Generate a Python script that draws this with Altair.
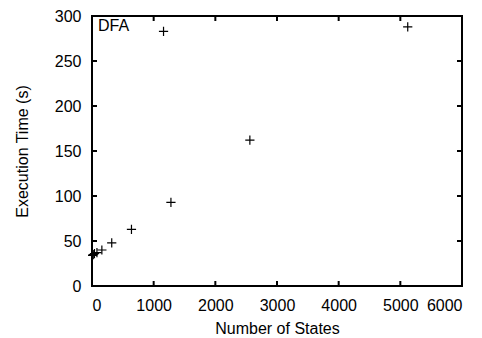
import altair as alt
import pandas as pd

# Data
states = [10, 20, 40, 80, 160, 320, 640, 1280, 2560, 5120, 1160]
exec_time = [34, 35, 36, 37, 40, 48, 63, 93, 162, 288, 283]
series_label = ["DFA"]
x_ticks = [0, 1000, 2000, 3000, 4000, 5000, 6000]
y_ticks = [0, 50, 100, 150, 200, 250, 300]

W, H = 370, 270
FONT = "Liberation Sans"
FS = 16

df = pd.DataFrame({"states": states, "time": exec_time})
xt = pd.DataFrame({"v": x_ticks})
yt = pd.DataFrame({"v": y_ticks})
lab = pd.DataFrame({"t": series_label})

xscale = alt.Scale(domain=[0, 6000], nice=False, zero=False)
yscale = alt.Scale(domain=[0, 300], nice=False, zero=False)

plus = "M-1,0H1M0,-1V1"

points = alt.Chart(df).mark_point(
    shape=plus, size=85, filled=False, stroke="black", strokeWidth=1.2, opacity=1
).encode(
    x=alt.X("states:Q", scale=xscale,
            axis=alt.Axis(title="Number of States", values=x_ticks, format="d",
                          titleY=47, titleBaseline="alphabetic")),
    y=alt.Y("time:Q", scale=yscale,
            axis=alt.Axis(title="Execution Time (s)", values=y_ticks, format="d",
                          titleX=-64.5, titleBaseline="alphabetic")),
)

tick_len = 5
bottom_ticks = alt.Chart(xt).mark_rule(color="black", strokeWidth=2).encode(
    x=alt.X("v:Q", scale=xscale), y=alt.value(H), y2=alt.value(H - tick_len))
top_ticks = alt.Chart(xt).mark_rule(color="black", strokeWidth=2).encode(
    x=alt.X("v:Q", scale=xscale), y=alt.value(0), y2=alt.value(tick_len))
left_ticks = alt.Chart(yt).mark_rule(color="black", strokeWidth=2).encode(
    y=alt.Y("v:Q", scale=yscale), x=alt.value(0), x2=alt.value(tick_len))
right_ticks = alt.Chart(yt).mark_rule(color="black", strokeWidth=2).encode(
    y=alt.Y("v:Q", scale=yscale), x=alt.value(W), x2=alt.value(W - tick_len))

label = alt.Chart(lab).mark_text(
    align="left", baseline="alphabetic", font=FONT, fontSize=FS, color="black"
).encode(x=alt.value(6), y=alt.value(15), text="t:N")

chart = alt.layer(
    bottom_ticks, top_ticks, left_ticks, right_ticks, points, label
).properties(
    width=W, height=H,
    background="white",
    autosize=alt.AutoSizeParams(type="none"),
    padding={"left": 84, "top": 8, "right": 12, "bottom": 50},
).configure_view(
    stroke="black", strokeWidth=2
).configure_axis(
    grid=False, ticks=False, domain=False,
    labelFont=FONT, labelFontSize=FS, labelColor="black", labelPadding=11,
    titleFont=FONT, titleFontSize=FS, titleColor="black", titleFontWeight="normal",
)

chart.save("out.html", embed_options={"renderer": "svg", "actions": False})
